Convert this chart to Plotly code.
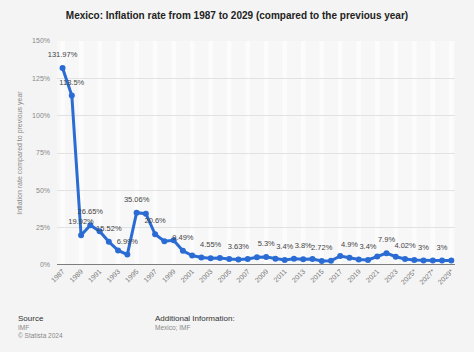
import plotly.graph_objects as go

years = list(range(1987, 2030))
inflation = [131.97, 113.5, 19.92, 26.65, 22.66, 15.52, 9.75, 6.99, 35.06, 34.38,
             20.6, 15.93, 16.59, 9.49, 6.37, 5.03, 4.55, 4.69, 3.99, 3.63,
             3.97, 5.12, 5.3, 4.16, 3.4, 4.11, 3.8, 4.02, 2.72, 2.82,
             6.04, 4.9, 3.64, 3.4, 5.69, 7.9, 5.53, 4.02, 3.3, 3.0,
             3.0, 3.0, 3.0]
label_years = [1987, 1988, 1989, 1990, 1992, 1994, 1995, 1997, 2000, 2003, 2006,
               2009, 2011, 2013, 2015, 2018, 2020, 2022, 2024, 2026, 2028]
tick_years = list(range(1987, 2030, 2))
tick_text = [str(y) + ("*" if y >= 2025 else "") for y in tick_years]
y_ticks = [0, 25, 50, 75, 100, 125, 150]
y_text = [f"{v}%" for v in y_ticks]

def fmt(v):
    s = f"{v:.2f}".rstrip("0").rstrip(".")
    return s + "%"

labels = [fmt(v) if y in label_years else "" for y, v in zip(years, inflation)]

fig = go.Figure()
# faint vertical bands
for y in tick_years:
    fig.add_vrect(x0=y - 0.25, x1=y + 0.25, fillcolor="rgba(255,255,255,0.6)",
                  line_width=0, layer="below")

fig.add_trace(go.Scatter(
    x=years, y=inflation, mode="lines+markers",
    line=dict(color="#2a6cd3", width=3),
    marker=dict(color="#2a6cd3", size=6),
    cliponaxis=False, hoverinfo="x+y",
))
fig.add_trace(go.Scatter(
    x=years, y=inflation, mode="markers+text",
    marker=dict(size=13, opacity=0),
    text=labels, textposition="top center",
    textfont=dict(family="Liberation Sans, Arial", size=7.5, color="#444444"),
    cliponaxis=False, hoverinfo="skip",
))

fig.update_layout(
    width=474, height=352,
    margin=dict(l=57, r=19, t=41, b=87),
    paper_bgcolor="#f4f4f4", plot_bgcolor="#f7f7f7",
    showlegend=False,
    font=dict(family="Liberation Sans, Arial", color="#666666"),
    title=dict(text="<b>Mexico: Inflation rate from 1987 to 2029 (compared to the previous year)</b>",
               x=0.5, xanchor="center", y=0.955, yanchor="middle",
               font=dict(size=10, color="#222222")),
    xaxis=dict(range=[1986.4, 2029.4], tickvals=tick_years, ticktext=tick_text,
               tickangle=-45, tickfont=dict(size=7, color="#777777"),
               showgrid=False, zeroline=False, showline=False, ticks="",
               fixedrange=True),
    yaxis=dict(range=[0, 150], tickvals=y_ticks, ticktext=y_text,
               tickfont=dict(size=7, color="#888888"),
               gridcolor="#e2e2e2", gridwidth=1, zeroline=False,
               showline=False, ticks="", ticklabelstandoff=6,
               title=dict(text="Inflation rate compared to previous year",
                          font=dict(size=7, color="#888888"), standoff=8)),
)
# baseline at 0%
fig.add_shape(type="line", xref="paper", yref="y", x0=0, x1=1, y0=0, y1=0,
              line=dict(color="#555555", width=1.5))

fig.add_annotation(text="Source", xref="paper", yref="paper", x=-0.103, y=-0.21,
                   xanchor="left", yanchor="top", showarrow=False,
                   font=dict(size=8, color="#333333"))
fig.add_annotation(text="IMF<br>© Statista 2024", xref="paper", yref="paper",
                   x=-0.103, y=-0.255, xanchor="left", yanchor="top", showarrow=False,
                   align="left", font=dict(size=6.5, color="#888888"))
fig.add_annotation(text="Additional Information:", xref="paper", yref="paper",
                   x=0.241, y=-0.21, xanchor="left", yanchor="top", showarrow=False,
                   font=dict(size=8, color="#333333"))
fig.add_annotation(text="Mexico; IMF", xref="paper", yref="paper",
                   x=0.241, y=-0.255, xanchor="left", yanchor="top", showarrow=False,
                   font=dict(size=6.5, color="#888888"))

fig.write_html("out.html")
